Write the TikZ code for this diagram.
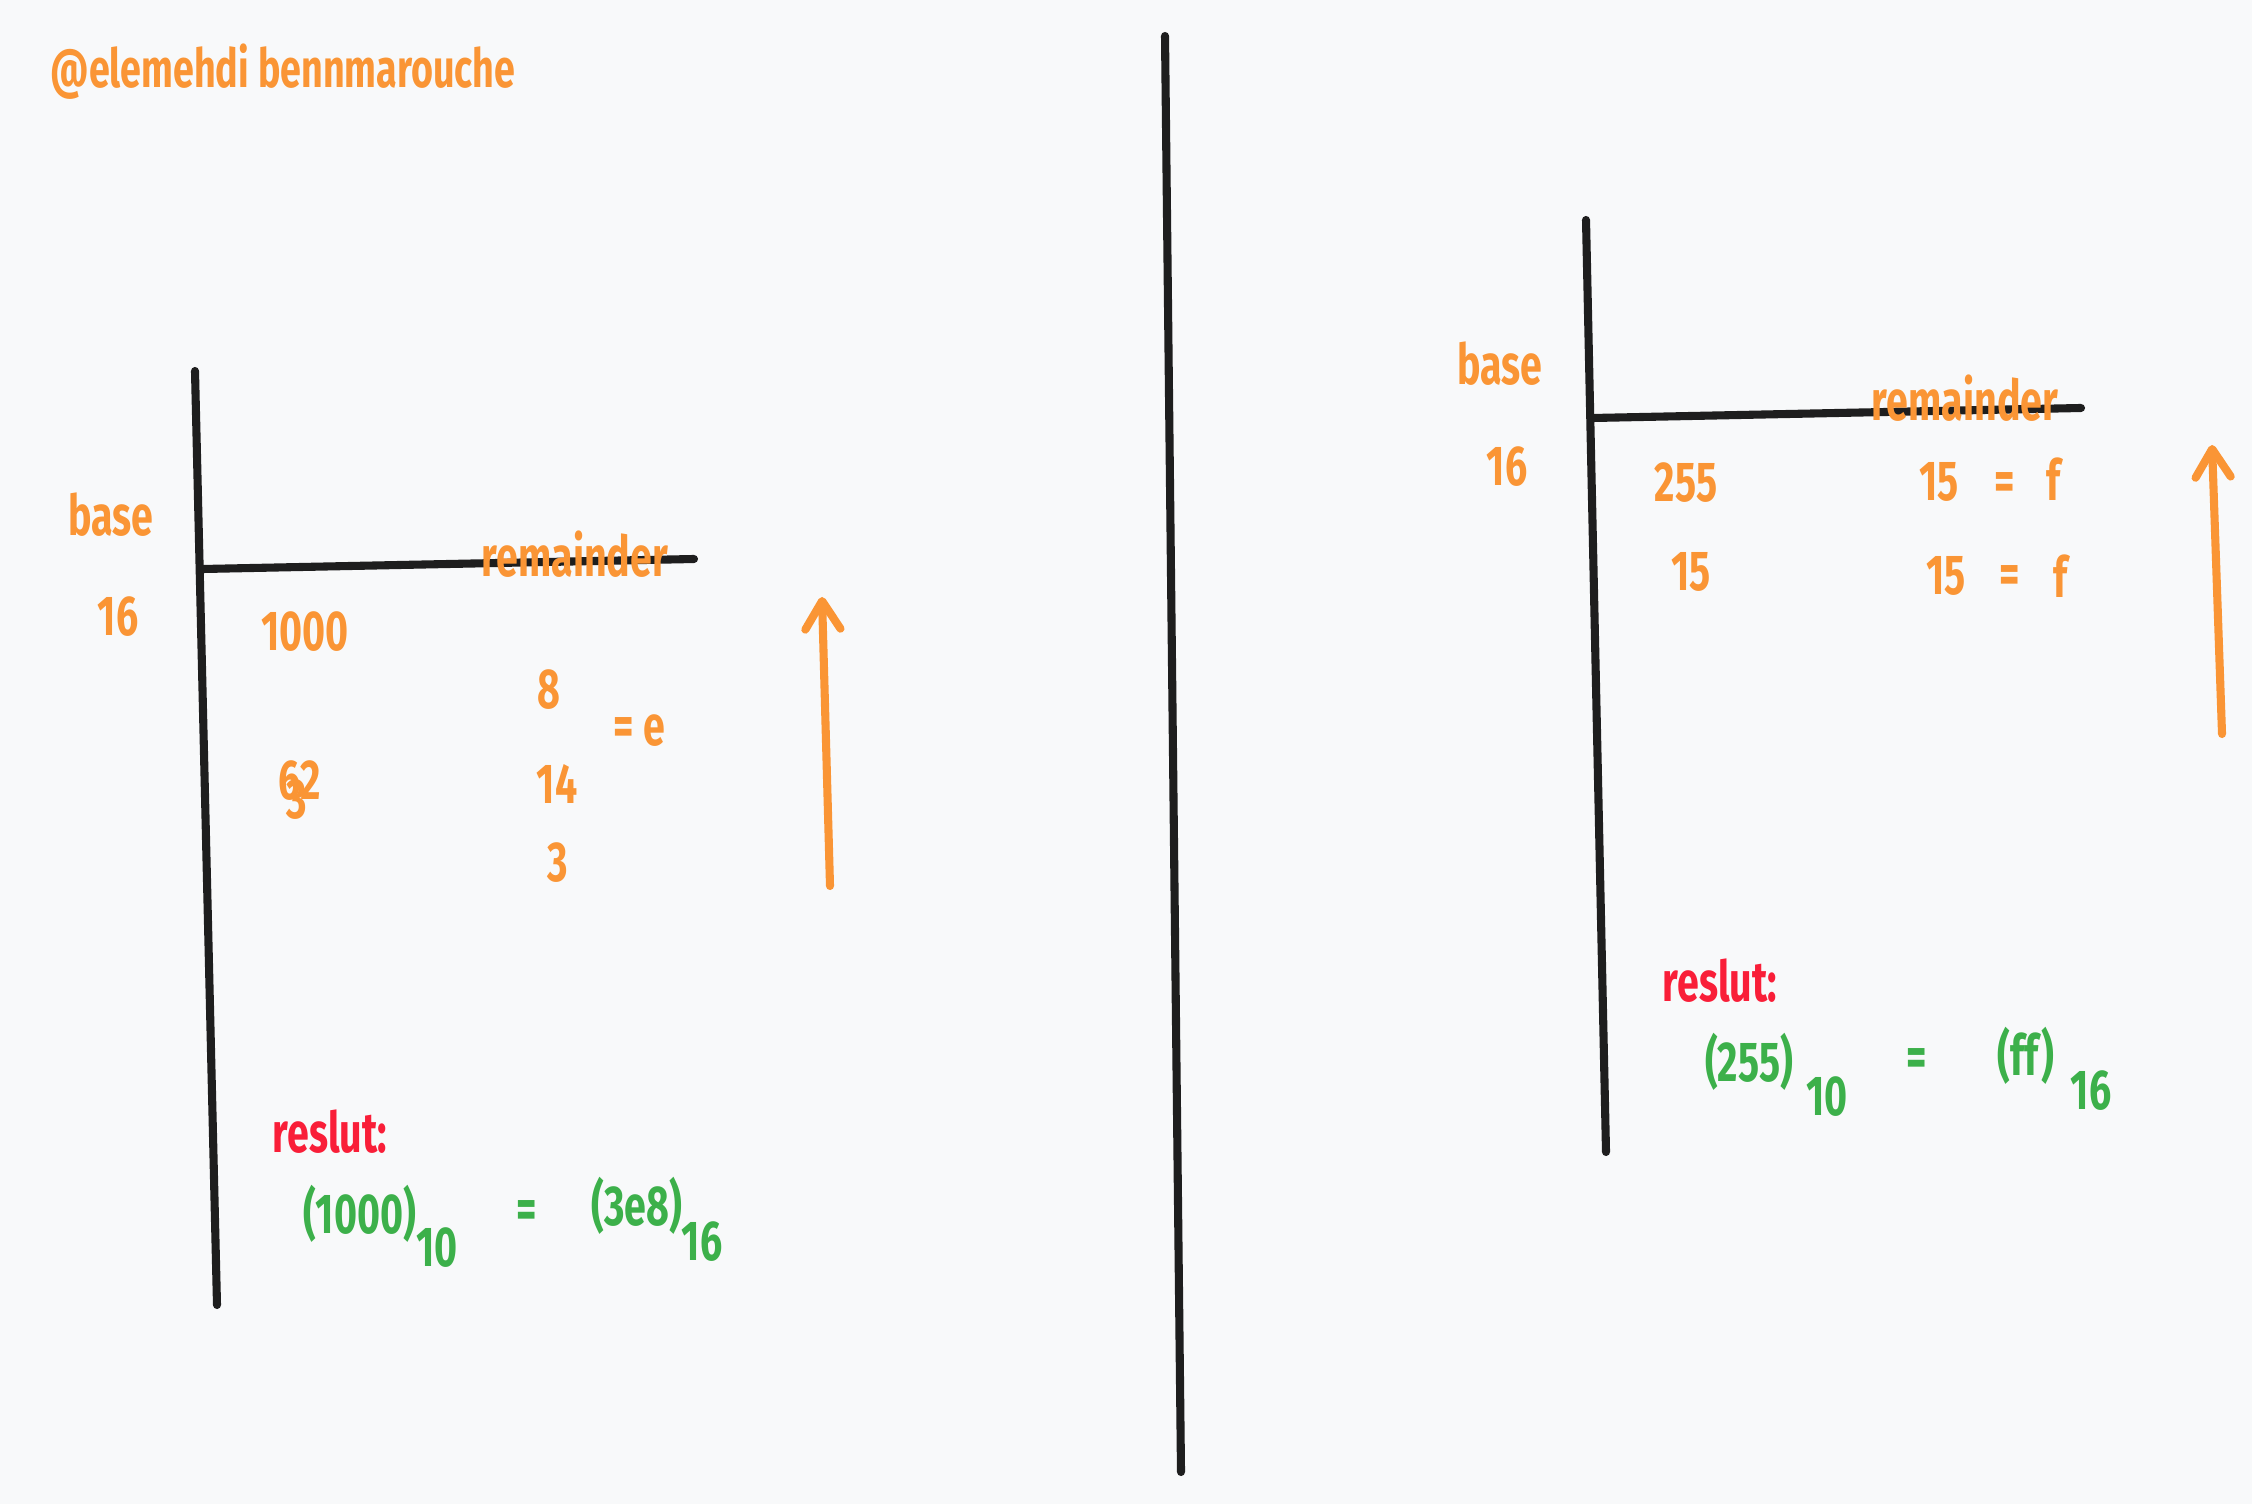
\documentclass[tikz,border=0pt]{standalone}
\usepackage{fontspec}
\setmainfont{Fira Sans}[FakeStretch=0.7]
\usetikzlibrary{arrows.meta}
\definecolor{bg}{HTML}{F8F9FA}
\definecolor{ink}{HTML}{1E1E1E}
\definecolor{org}{HTML}{FA9535}
\definecolor{grn}{HTML}{3CB04A}
\definecolor{rd}{HTML}{F91E38}
\tikzset{
  hw/.style={font=\fontsize{16}{18}\selectfont\bfseries, inner sep=0pt, text=org},
  res/.style={hw, text=rd},
  eqn/.style={hw, text=grn},
  bar/.style={draw=ink, line width=2.3pt, line cap=round},
  uparrow/.style={draw=org, line width=2.3pt, line cap=round,
    -{Straight Barb[length=8pt,width=10pt,line cap=round,line join=round]}},
}
\begin{document}
\begin{tikzpicture}[x=0.01cm,y=-0.01cm]
\fill[bg] (0,0) rectangle (2252,1504);
\useasboundingbox (0,0) rectangle (2252,1504);
% coordinates
\coordinate (lvt) at (195,371);
\coordinate (lvb) at (217,1305);
\coordinate (lhl) at (203,569);
\coordinate (lhr) at (694,559);
\coordinate (mvt) at (1165,36);
\coordinate (mvb) at (1181,1472);
\coordinate (rvt) at (1586,220);
\coordinate (rvb) at (1606,1152);
\coordinate (rhl) at (1593,418);
\coordinate (rhr) at (2081,408);
\coordinate (la0) at (830,886);
\coordinate (la1) at (822,597);
\coordinate (ra0) at (2222,734);
\coordinate (ra1) at (2212,445);
% lines
\draw[bar] (lvt) -- (lvb);
\draw[bar] (lhl) -- (lhr);
\draw[bar] (mvt) -- (mvb);
\draw[bar] (rvt) -- (rvb);
\draw[bar] (rhl) -- (rhr);
\draw[uparrow] (la0) -- (la1);
\draw[uparrow] (ra0) -- (ra1);
% left texts
\node[hw, font=\fontsize{15.3}{18}\selectfont\bfseries] (title) at (283,72) {@elemehdi bennmarouche};
\node[hw] (baseL) at (111,515) {base};
\node[hw] (sixteenL) at (118,617) {16};
\node[hw] (remL) at (575,554) {remainder};
\node[hw] (n1000) at (305,632) {1000};
\node[hw] (r8) at (549,690) {8};
\node[hw] (eqe) at (639,731) {= e};
\node[hw] (q3) at (297,800) {3};
\node[hw] (q62) at (300,781) {62};
\node[hw] (r14) at (557,784) {14};
\node[hw] (r3) at (558,863) {3};
\node[res] (resL) at (330,1132) {reslut:};
\node[eqn] (decL) at (360,1214) {(1000)};
\node[eqn] (subL1) at (437,1248) {10};
\node[eqn] (eqL) at (527,1215) {=};
\node[eqn] (hexL) at (637,1206) {(3e8)};
\node[eqn] (subL2) at (702,1242) {16};
% right texts
\node[hw] (baseR) at (1500,364) {base};
\node[hw] (sixteenR) at (1507,467) {16};
\node[hw] (remR) at (1965,398) {remainder};
\node[hw] (n255) at (1686,483) {255};
\node[hw] (ra15) at (1939,482) {15};
\node[hw] (raeq) at (2005,487) {=};
\node[hw] (raf) at (2053,479) {f};
\node[hw] (n15) at (1691,572) {15};
\node[hw] (rb15) at (1946,576) {15};
\node[hw] (rbeq) at (2010,580) {=};
\node[hw] (rbf) at (2060,576) {f};
\node[res] (resR) at (1720,981) {reslut:};
\node[eqn] (decR) at (1749,1062) {(255)};
\node[eqn] (subR1) at (1827,1097) {10};
\node[eqn] (eqR) at (1917,1063) {=};
\node[eqn] (hexR) at (2026,1056) {(ff)};
\node[eqn] (subR2) at (2091,1091) {16};
\end{tikzpicture}
\end{document}
